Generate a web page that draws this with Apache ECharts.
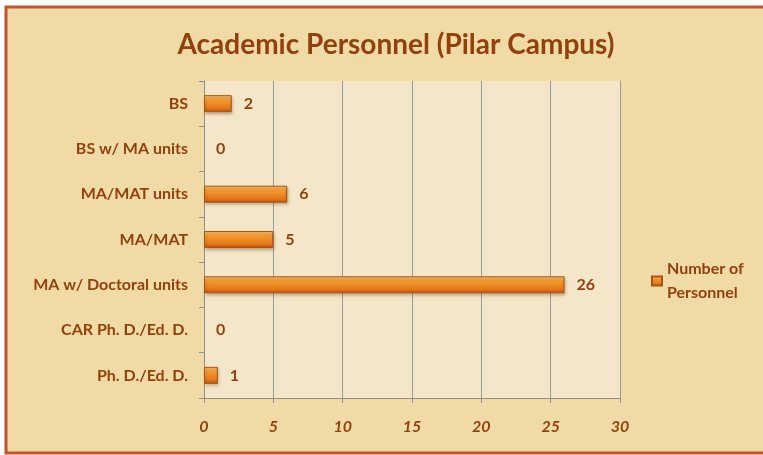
<!DOCTYPE html>
<html>
<head>
<meta charset="utf-8">
<script src="https://cdn.jsdelivr.net/npm/echarts@6/dist/echarts.min.js"></script>
<style>
  html, body { margin: 0; padding: 0; background: #ffffff; }
</style>
</head>
<body>
<div id="chart01" style="width: 763px; height: 455px"></div>
<script>
// categories, top to bottom
var categories = [
  "BS",
  "BS w/ MA units",
  "MA/MAT units",
  "MA/MAT",
  "MA w/ Doctoral units",
  "CAR Ph. D./Ed. D.",
  "Ph. D./Ed. D."
];
var personnel = [2, 0, 6, 5, 26, 0, 1];
var xTicks = [0, 5, 10, 15, 20, 25, 30];

var brown = "#93410c";
var fontName = "Lato, 'Open Sans', sans-serif";

var chartDom = document.getElementById("chart01");
var myChart = echarts.init(chartDom);
var option;

// zero bars get no border, so nothing shows for them
var barData = personnel.map(function (v) {
  return v === 0 ? { value: v, itemStyle: { borderWidth: 0, shadowBlur: 0, shadowOffsetX: 0, shadowOffsetY: 0 } } : v;
});

option = {
  backgroundColor: "transparent",
  graphic: [
    {
      type: "rect",
      z: -10,
      shape: { x: 6, y: 7, width: 800, height: 446 },
      style: { fill: "#f0dba6", stroke: "#c4532b", lineWidth: 3 },
    },
  ],
  title: {
    text: "Academic Personnel (Pilar Campus)",
    left: 391,
    textAlign: "center",
    top: 26,
    textStyle: {
      color: brown,
      fontFamily: fontName,
      fontSize: 28,
      fontWeight: "bold",
    },
  },
  legend: {
    left: 646,
    top: 252,
    orient: "vertical",
    itemWidth: 10,
    itemHeight: 9,
    itemGap: 4,
    icon: "rect",
    data: ["Number of Personnel"],
    formatter: function () {
      return "Number of\nPersonnel";
    },
    textStyle: {
      color: brown,
      fontFamily: fontName,
      fontSize: 16,
      fontWeight: "bold",
      lineHeight: 24,
    },
  },
  grid: {
    left: 204,
    right: 143,
    top: 81,
    bottom: 57,
    show: true,
    backgroundColor: "#f4e7c9",
    borderWidth: 0,
  },
  xAxis: {
    type: "value",
    min: xTicks[0],
    max: xTicks[xTicks.length - 1],
    interval: 5,
    axisLine: { show: true, lineStyle: { color: "#8f8f8f", width: 1 } },
    axisTick: { show: true, length: 5, lineStyle: { color: "#8f8f8f" } },
    splitLine: { show: true, lineStyle: { color: "#9a9a9a", width: 1 } },
    axisLabel: {
      margin: 21,
      color: brown,
      fontFamily: fontName,
      fontSize: 16,
      fontStyle: "italic",
      fontWeight: "bold",
    },
  },
  yAxis: {
    type: "category",
    inverse: true,
    data: categories,
    axisLine: { show: true, lineStyle: { color: "#8f8f8f", width: 1 } },
    axisTick: { show: true, length: 5, lineStyle: { color: "#8f8f8f" } },
    axisLabel: {
      margin: 16,
      color: brown,
      fontFamily: fontName,
      fontSize: 16,
      fontWeight: "bold",
    },
  },
  series: [
    {
      name: "Number of Personnel",
      type: "bar",
      barWidth: 17,
      data: barData,
      itemStyle: {
        color: new echarts.graphic.LinearGradient(0, 0, 0, 1, [
          { offset: 0, color: "#fac77a" },
          { offset: 0.3, color: "#f39a2e" },
          { offset: 0.75, color: "#e8781a" },
          { offset: 1, color: "#b6560e" },
        ]),
        borderColor: "#a85312",
        borderWidth: 1,
        shadowColor: "rgba(80, 40, 0, 0.35)",
        shadowBlur: 3,
        shadowOffsetX: 1,
        shadowOffsetY: 2,
      },
      label: {
        show: true,
        position: "right",
        distance: 12,
        color: brown,
        fontFamily: fontName,
        fontSize: 16,
        fontWeight: "bold",
      },
    },
  ],
};

option && myChart.setOption(option);
</script>
</body>
</html>
